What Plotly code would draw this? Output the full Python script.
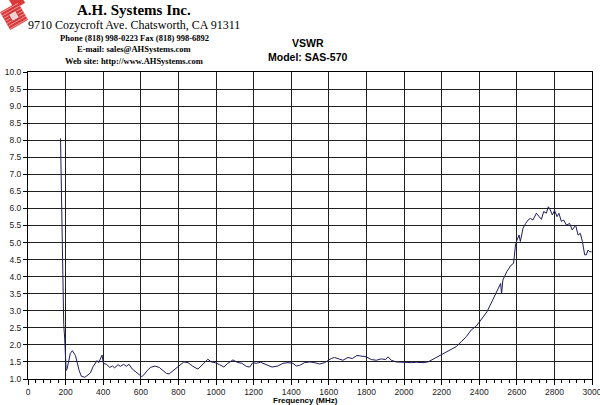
import plotly.graph_objects as go

# ---- data ----
freq_mhz = [173, 175, 178, 182, 186, 190, 195, 199, 203, 208, 213, 225, 236, 245, 252, 261, 272, 284,
            302, 319, 332, 346, 358, 367, 376, 385, 394, 401, 417, 435, 449, 461, 479, 491, 509,
            523, 537, 555, 573, 591, 605, 616, 634, 652, 675, 698, 719, 737, 751, 772, 794, 812,
            829, 851, 877, 904, 930, 957, 975, 996, 1019, 1042, 1063, 1090, 1113, 1138, 1161,
            1179, 1196, 1214, 1237, 1267, 1298, 1329, 1356, 1383, 1409, 1427, 1445, 1471, 1498,
            1525, 1551, 1578, 1596, 1613, 1631, 1649, 1675, 1702, 1725, 1750, 1773, 1799, 1826,
            1853, 1879, 1902, 1915, 1932, 1959, 1986, 2012, 2039, 2065, 2101, 2128, 2145, 2171,
            2190, 2207, 2242, 2278, 2304, 2331, 2358, 2384, 2402, 2420, 2441, 2459, 2476, 2491,
            2505, 2514, 2519, 2526, 2547, 2570, 2583, 2588, 2593, 2601, 2612, 2619, 2633, 2647,
            2660, 2672, 2686, 2704, 2718, 2731, 2743, 2757, 2768, 2778, 2789, 2801, 2814, 2824,
            2837, 2849, 2864, 2881, 2895, 2913, 2926, 2938, 2949, 2961, 2970, 2979, 2988, 2998]
vswr = [8.05, 7.3, 5.8, 4.5, 3.3, 2.6, 2.2, 1.6, 1.25, 1.3, 1.46, 1.75, 1.83, 1.77, 1.69, 1.50, 1.25, 1.08,
        1.05, 1.12, 1.18, 1.36, 1.48, 1.54, 1.48, 1.58, 1.70, 1.46, 1.43, 1.34, 1.38, 1.33, 1.42, 1.37, 1.43,
        1.37, 1.43, 1.29, 1.22, 1.14, 1.07, 1.12, 1.25, 1.34, 1.38, 1.34, 1.25, 1.16, 1.15, 1.25, 1.34, 1.44,
        1.50, 1.48, 1.37, 1.29, 1.43, 1.58, 1.50, 1.48, 1.42, 1.35, 1.46, 1.56, 1.49, 1.46, 1.37,
        1.35, 1.48, 1.46, 1.49, 1.42, 1.35, 1.38, 1.46, 1.48, 1.46, 1.38, 1.40, 1.48, 1.50,
        1.48, 1.44, 1.48, 1.54, 1.60, 1.63, 1.59, 1.55, 1.63, 1.60, 1.69, 1.67, 1.65, 1.57,
        1.55, 1.59, 1.57, 1.65, 1.55, 1.50, 1.49, 1.49, 1.48, 1.49, 1.48, 1.50, 1.55, 1.62,
        1.69, 1.75, 1.85, 1.95, 2.09, 2.24, 2.44, 2.55, 2.68, 2.83, 2.97, 3.17, 3.37, 3.51,
        3.66, 3.80, 3.50, 3.90, 4.15, 4.34, 4.39, 4.64, 4.93, 5.07, 5.22, 5.03, 5.42, 5.56,
        5.66, 5.71, 5.66, 5.86, 5.78, 5.68, 5.91, 5.86, 6.05, 5.96, 5.81, 5.94, 5.76, 5.86,
        5.62, 5.66, 5.51, 5.56, 5.37, 5.51, 5.22, 5.27, 5.03, 4.64, 4.64, 4.78, 4.73, 4.73]

header_lines = ["A.H. Systems Inc.",
                "9710 Cozycroft Ave. Chatsworth, CA 91311",
                "Phone (818) 998-0223 Fax (818) 998-6892",
                "E-mail: sales@AHSystems.com",
                "Web site: http://www.AHSystems.com"]
title_lines = ["VSWR", "Model: SAS-570"]
x_title = "Frequency (MHz)"

W, H = 600, 405
L, R, T, B = 28, 8, 72, 26
PW, PH = W - L - R, H - T - B


def px(x):
    return (x - L) / PW


def py(y):
    return (H - B - y) / PH


fig = go.Figure()
fig.add_trace(go.Scatter(x=freq_mhz, y=vswr, mode="lines",
                         line=dict(color="#1c1c5c", width=1), hoverinfo="skip"))

serif = "Liberation Serif, Times New Roman, serif"
sans = "Liberation Sans, Arial, sans-serif"

header_style = [(15, True, 10), (12, False, 25), (8.5, True, 38), (8.5, True, 49), (8.5, True, 61)]
ann = []
for txt, (sz, bold, yc) in zip(header_lines, header_style):
    ann.append(dict(x=px(134), y=py(yc), xref="paper", yref="paper", text=("<b>%s</b>" % txt) if bold else txt,
                    showarrow=False, xanchor="center", yanchor="middle",
                    font=dict(family=serif, size=sz, color="black")))
for txt, yc in zip(title_lines, [43, 57]):
    ann.append(dict(x=px(308), y=py(yc), xref="paper", yref="paper", text="<b>%s</b>" % txt,
                    showarrow=False, xanchor="center", yanchor="middle",
                    font=dict(family=sans, size=10.5, color="black")))
ann.append(dict(x=px(305), y=py(400.5), xref="paper", yref="paper", text="<b>%s</b>" % x_title,
                showarrow=False, xanchor="center", yanchor="middle",
                font=dict(family=sans, size=8, color="black")))

# logo (approximation): red tilted square with stripes
shapes = []
def logo_pt(u, v):
    import math
    a = math.radians(-30)
    cx, cy = 14, 16
    return cx + u * math.cos(a) - v * math.sin(a), cy + u * math.sin(a) + v * math.cos(a)

corners = [logo_pt(-10, -10), logo_pt(10, -10), logo_pt(10, 10), logo_pt(-10, 10)]
path = "M " + " L ".join("%f,%f" % (px(a), py(b)) for a, b in corners) + " Z"
shapes.append(dict(type="path", xref="paper", yref="paper", path=path,
                   fillcolor="#d9383a", line=dict(color="#d9383a", width=0.5)))
corners2 = [logo_pt(4, -16), logo_pt(16, -16), logo_pt(16, -6), logo_pt(4, -6)]
path2 = "M " + " L ".join("%f,%f" % (px(a), py(b)) for a, b in corners2) + " Z"
shapes.append(dict(type="path", xref="paper", yref="paper", path=path2,
                   fillcolor="#d9383a", line=dict(color="#d9383a", width=0.5)))
for k in range(-9, 10, 3):
    a1, b1 = logo_pt(-10, k)
    a2, b2 = logo_pt(10, k)
    shapes.append(dict(type="line", xref="paper", yref="paper", x0=px(a1), y0=py(b1), x1=px(a2), y1=py(b2),
                       line=dict(color="#f4b0b0", width=0.8)))
inner = [logo_pt(-4, -4), logo_pt(4, -4), logo_pt(4, 4), logo_pt(-4, 4)]
path3 = "M " + " L ".join("%f,%f" % (px(a), py(b)) for a, b in inner) + " Z"
shapes.append(dict(type="path", xref="paper", yref="paper", path=path3,
                   fillcolor="#f6d0d0", line=dict(color="#b02020", width=0.8)))

fig.update_layout(
    width=W, height=H, margin=dict(l=L, r=R, t=T, b=B, pad=0, autoexpand=False),
    paper_bgcolor="white", plot_bgcolor="white", showlegend=False,
    annotations=ann, shapes=shapes,
    xaxis=dict(range=[0, 3000], dtick=200, tick0=0, showgrid=True, gridcolor="#202020", gridwidth=1,
               showline=True, linecolor="black", linewidth=1, mirror=True,
               ticks="outside", ticklen=5, tickcolor="black", zeroline=False,
               ticklabeloverflow="allow", automargin=False,
               tickfont=dict(family=sans, size=8.5, color="#222"),
               minor=dict(dtick=40, ticks="outside", ticklen=3, tickcolor="black", showgrid=False)),
    yaxis=dict(range=[1, 10], dtick=0.5, tick0=1, tickformat=".1f", showgrid=True, gridcolor="#202020",
               gridwidth=1, showline=True, linecolor="black", linewidth=1, mirror=True,
               ticks="outside", ticklen=4, tickcolor="black", zeroline=False, automargin=False,
               tickfont=dict(family=sans, size=8.5, color="#222")),
)

fig.write_html("out.html")
